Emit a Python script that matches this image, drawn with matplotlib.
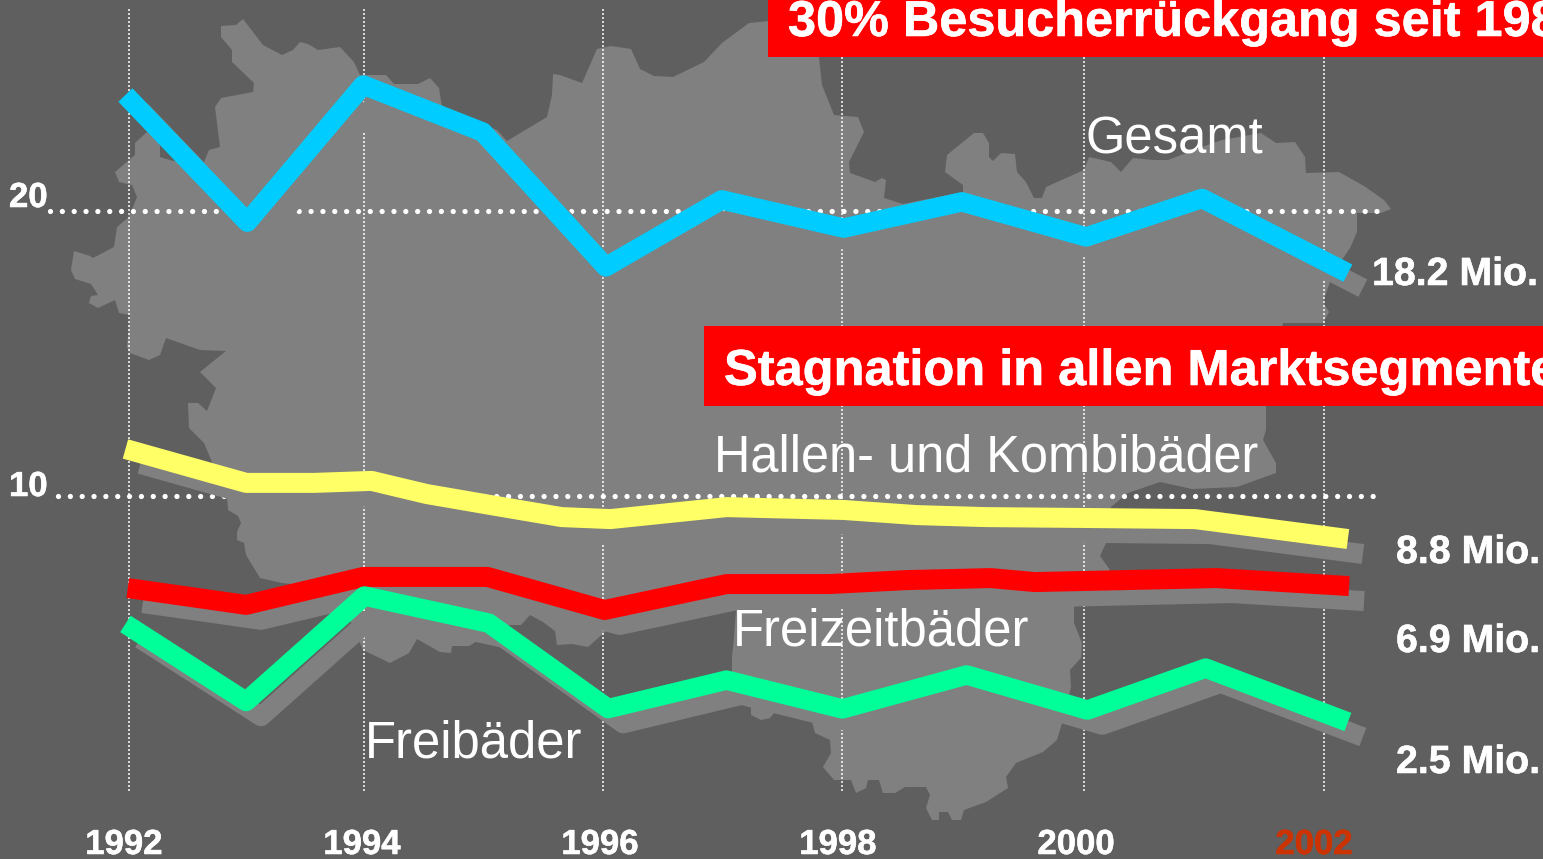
import matplotlib
matplotlib.use("Agg")
import matplotlib.pyplot as plt
from matplotlib.patches import Polygon, Rectangle
from matplotlib.transforms import Affine2D
import matplotlib.patheffects as pe

W, H = 1543, 859
plt.rcParams['font.family'] = ['Liberation Sans', 'DejaVu Sans']
plt.rcParams['lines.scale_dashes'] = False

# ---------- data ----------
gesamt_x = [1991.97, 1992.99, 1993.96, 1994.96, 1995.99, 1996.96, 1997.98, 1998.97, 2000.01, 2000.98, 2002.2]
gesamt_y = [24.07, 19.61, 24.42, 22.77, 18.04, 20.39, 19.40, 20.32, 19.09, 20.44, 17.82]

hallen_x = [1991.97, 1992.98, 1993.55, 1994.03, 1994.49, 1995.03, 1995.62, 1996.03, 1997.0, 1997.98, 1998.59, 1999.17, 1999.97, 2000.92, 2002.2]
hallen_y = [11.65, 10.46, 10.46, 10.53, 10.07, 9.68, 9.26, 9.19, 9.61, 9.51, 9.33, 9.26, 9.23, 9.19, 8.49]

freizeit_x = [1991.99, 1992.98, 1993.96, 1995.0, 1995.98, 1997.0, 1997.86, 1998.51, 1999.21, 1999.58, 2001.1, 2002.21]
freizeit_y = [6.77, 6.18, 7.16, 7.16, 6.0, 6.91, 6.91, 7.05, 7.12, 6.98, 7.12, 6.84]

frei_x = [1991.97, 1992.98, 1993.97, 1995.01, 1996.01, 1997.0, 1997.97, 1999.01, 2000.02, 2001.01, 2002.2]
frei_y = [5.51, 2.79, 6.49, 5.54, 2.54, 3.54, 2.53, 3.72, 2.49, 3.96, 2.07]

grid_years = [1992, 1994, 1996, 1998, 2000, 2002]
grid_pos = [1992.0, 1993.97, 1995.97, 1997.97, 1999.99, 2002.0]
tick_labels = ['1992', '1994', '1996', '1998', '2000', '2002']
tick_colors = ['white', 'white', 'white', 'white', 'white', '#cc3300']
y_levels = [20, 10]
y_labels = ['20', '10']
end_labels = ['18.2 Mio.', '8.8 Mio.', '6.9 Mio.', '2.5 Mio.']

# Background map silhouette, traced outline in picture pixels
map_outline = [
    (221,26),(236,25),(243,19),(263,45),(282,55),(293,50),(300,42),(308,44),(318,50),(340,47),(354,62),(360,75),
    (386,75),(394,84),(418,84),(430,78),(439,88),(442,107),(497,130),(507,141),(547,117),(552,95),(553,74),(560,75),
    (582,83),(597,49),(611,46),(631,49),(640,69),(654,76),(673,77),(704,62),(722,43),(749,23),(769,21),(818,20),
    (819,57),(822,85),(834,115),(858,117),(864,132),(849,162),(850,173),(875,182),(882,178),(886,180),(884,198),
    (903,204),(963,192),(963,185),(945,172),(947,155),(974,133),(983,133),(989,143),(989,157),(993,161),(1001,153),
    (1015,154),(1017,172),(1026,182),(1034,198),(1042,198),(1046,187),(1084,170),(1089,157),(1111,162),(1121,172),
    (1133,158),(1153,160),(1168,160),(1202,147),(1222,140),(1261,133),(1276,143),(1295,142),(1305,157),(1306,173),
    (1339,172),(1364,186),(1384,200),(1391,209),(1381,213),(1357,213),(1357,232),(1350,248),(1335,270),(1330,282),
    (1323,302),(1329,312),(1323,323),(1283,323),(1266,406),(1266,430),(1263,440),(1276,463),(1276,473),(1237,487),
    (1192,489),(1160,482),(1128,493),(1111,507),(1106,543),(1100,556),(1110,570),(1074,607),(1074,623),(1082,643),
    (1081,658),(1070,670),(1071,687),(1062,723),(1057,740),(1043,752),(1016,763),(1006,777),(1008,788),(986,802),
    (964,810),(961,820),(952,820),(948,812),(939,812),(939,820),(932,820),(926,808),(930,795),(926,787),(905,787),
    (895,793),(883,793),(879,780),(868,780),(866,788),(856,793),(851,780),(834,780),(823,767),(831,753),(830,740),
    (815,733),(812,722),(775,712),(770,718),(761,720),(751,715),(751,705),(742,695),(732,672),(732,657),(734,637),
    (736,610),(621,620),(604,633),(588,647),(572,644),(557,645),(555,631),(543,622),(530,615),(521,625),(505,625),
    (491,620),(474,643),(469,646),(452,646),(451,653),(440,652),(417,639),(409,653),(390,663),(363,650),(350,620),
    (330,600),(300,585),(282,583),(260,578),(246,555),(244,543),(237,540),(237,532),(241,523),(238,516),(228,510),
    (227,498),(204,443),(191,430),(189,428),(188,403),(198,403),(207,411),(216,388),(200,372),(226,351),(200,350),
    (166,338),(160,355),(149,360),(130,353),(127,347),(130,315),(119,313),(115,300),(98,308),(89,303),(91,296),
    (98,295),(91,284),(75,279),(71,270),(74,251),(90,256),(93,258),(114,247),(117,227),(129,217),(137,197),(132,185),
    (119,182),(115,172),(135,155),(135,143),(147,132),(160,142),(160,157),(173,161),(204,162),(209,150),(220,147),
    (215,107),(221,98),(253,92),(254,83),(232,62),(232,50),(221,37),
]

# ---------- figure ----------
BG, GREY = '#5f5f5f', '#808080'
fig = plt.figure(figsize=(W / 100, H / 100), dpi=100, facecolor=BG)
ax = fig.add_axes([0, 0, 1, 1], facecolor=BG)
ax.set_xlim(1992 - 129 / 119.5, 1992 + (W - 129) / 119.5)
ax.set_ylim(20 - (H - 211) / 28.5, 20 + 211 / 28.5)
ax.axis('off')

px = Affine2D().scale(1 / W, -1 / H).translate(0, 1) + ax.transAxes

ax.add_patch(Polygon(map_outline, closed=True, facecolor=GREY, edgecolor='none', transform=px, zorder=1))

# gridlines
p2pt = 72 / 100
for pos in grid_pos:
    ax.plot([pos, pos], [20 - (791 - 211) / 28.5, 20 + (211 - 8) / 28.5], color='white', lw=1.5 * p2pt,
            ls=(0, (2 * p2pt, 2 * p2pt)), dash_capstyle='butt', zorder=2)
for lvl, x0, x1 in zip(y_levels, [1991.34, 1991.41], [2002.47, 2002.50]):
    ax.plot([x0, x1], [lvl, lvl], color='white', lw=5.3 * p2pt, ls=(0, (0.01, 11.83 * p2pt)),
            dash_capstyle='round', zorder=2)

# series with drop shadows
series = [(gesamt_x, gesamt_y, '#00ccff', 19.5), (hallen_x, hallen_y, '#ffff66', 20),
          (freizeit_x, freizeit_y, '#ff0000', 20), (frei_x, frei_y, '#00ff99', 19.5)]
shadow = ax.transData + Affine2D().translate(15, -15)
for xs, ys, c, w in series:
    ax.plot(xs, ys, color=GREY, lw=w * p2pt, solid_capstyle='butt', solid_joinstyle='round',
            transform=shadow, zorder=3)
for xs, ys, c, w in series:
    ax.plot(xs, ys, color=c, lw=w * p2pt, solid_capstyle='butt', solid_joinstyle='round', zorder=4)

# red banners
ax.add_patch(Rectangle((768, 0), W - 768, 57, facecolor='#ff0000', edgecolor='none', transform=px, zorder=5))
ax.add_patch(Rectangle((704, 326), W - 704, 80, facecolor='#ff0000', edgecolor='none', transform=px, zorder=5))


def label(x, y, s, size, weight='bold', color='white', ha='left'):
    t = ax.text(x, y, s, transform=px, fontsize=size, fontweight=weight, color=color, ha=ha, va='baseline', zorder=6)
    if weight == 'bold':
        t.set_path_effects([pe.withStroke(linewidth=0.4, foreground=color)])


label(788, 36, '30% Besucherrückgang seit 198', 36.3)
label(724, 385, 'Stagnation in allen Marktsegmente', 36.4)

label(1086, 154, 'Gesamt', 36.5, 'normal')
label(714, 472, 'Hallen- und Kombibäder', 36.4, 'normal')
label(733, 646, 'Freizeitbäder', 36.6, 'normal')
label(365, 758, 'Freibäder', 36.6, 'normal')

for s, x, y in zip(end_labels, [1372, 1396, 1396, 1396], [285, 563, 652, 773]):
    label(x, y, s, 28.3)

for s, yb in zip(y_labels, [207, 496]):
    label(9, yb, s, 25)

for yr, s, c in zip(grid_years, tick_labels, tick_colors):
    label(124 + 119 * (yr - 1992), 854, s, 25, color=c, ha='center')

fig.savefig('out.png', dpi=100, facecolor=BG)
